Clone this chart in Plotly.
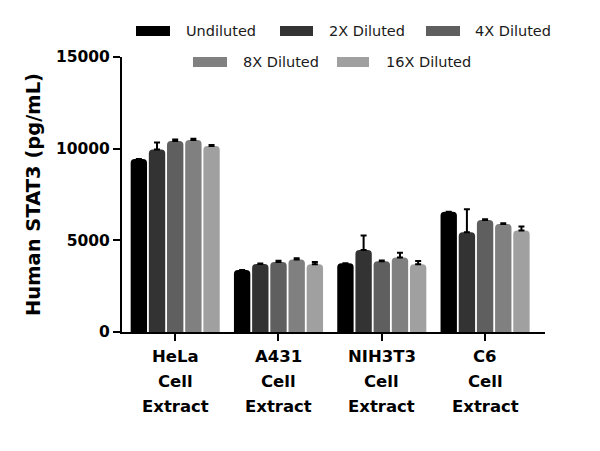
import plotly.graph_objects as go

categories = ["HeLa Cell Extract", "A431 Cell Extract",
              "NIH3T3 Cell Extract", "C6 Cell Extract"]
category_lines = [["HeLa", "Cell", "Extract"], ["A431", "Cell", "Extract"],
                  ["NIH3T3", "Cell", "Extract"], ["C6", "Cell", "Extract"]]
series_names = ["Undiluted", "2X Diluted", "4X Diluted", "8X Diluted", "16X Diluted"]
values = [
    [9440, 3380, 3745, 6560],    # Undiluted
    [9960, 3710, 4470, 5440],    # 2X
    [10420, 3820, 3855, 6110],   # 4X
    [10470, 3960, 4070, 5890],   # 8X
    [10140, 3690, 3690, 5530],   # 16X
]
errors = [
    [0, 0, 0, 0],
    [370, 30, 800, 1250],
    [80, 60, 40, 40],
    [70, 60, 250, 40],
    [60, 130, 180, 220],
]
y_tickvals = [0, 5000, 10000, 15000]
y_ticktext = ["0", "5000", "10000", "15000"]
colors = ["#000000", "#333333", "#5f5f5f", "#808080", "#a0a0a0"]

fig = go.Figure()
for name, vals, err, col in zip(series_names, values, errors, colors):
    fig.add_trace(go.Bar(
        x=categories, y=vals, name=name, marker_color=col,
        marker_line_width=0,
        error_y=dict(type="data", symmetric=False, array=err,
                     arrayminus=[0] * len(err), color="#000000",
                     thickness=2, width=3),
        showlegend=False,
    ))

FONT = "DejaVu Sans"

# plot area in pixels
L, R, T, B = 122, 545, 57, 332
def px(x):
    return (x - L) / (R - L)
def py(y):
    return (B - y) / (B - T)

# custom legend (two centered rows)
legend_pos = [(136, 170, 184, 31), (280, 313, 327, 31), (426, 460, 473, 31),
              (193, 227, 241, 62), (337, 369, 384, 62)]
shapes = []
annotations = []
for name, col, (x0, x1, tx, yc) in zip(series_names, colors, legend_pos):
    shapes.append(dict(type="rect", xref="paper", yref="paper",
                       x0=px(x0), x1=px(x1), y0=py(yc + 5), y1=py(yc - 5),
                       fillcolor=col, line=dict(width=0), layer="above"))
    annotations.append(dict(text=name, xref="paper", yref="paper",
                            x=px(tx), y=py(yc), xanchor="left", yanchor="middle",
                            showarrow=False,
                            font=dict(family=FONT, size=14.5, color="#1a1a1a")))

# category labels, one line per annotation
line_centers = [356, 381, 406]
for cat, lines in zip(categories, category_lines):
    for ln, yc in zip(lines, line_centers):
        annotations.append(dict(text=ln, xref="x", yref="paper", x=cat, y=py(yc),
                                xanchor="center", yanchor="middle", showarrow=False,
                                font=dict(family=FONT, size=16.5, color="#000000",
                                          weight="bold")))

fig.update_layout(
    width=600, height=451,
    margin=dict(l=L, r=600 - R, t=T, b=451 - B),
    paper_bgcolor="white", plot_bgcolor="white",
    barmode="group", bargap=0.12, bargroupgap=0.1,
    barcornerradius=4,
    shapes=shapes, annotations=annotations,
    font=dict(family=FONT, color="#000000"),
)
fig.update_yaxes(
    range=[0, 15000], tickvals=y_tickvals, ticktext=y_ticktext,
    showgrid=False, zeroline=False,
    showline=True, linecolor="#000000", linewidth=2,
    ticks="outside", ticklen=7, tickwidth=2, tickcolor="#000000",
    tickfont=dict(family=FONT, size=15.5, color="#000000", weight="bold"),
    title=dict(text="Human STAT3 (pg/mL)", standoff=10,
               font=dict(family=FONT, size=19.5, color="#000000", weight="bold")),
)
fig.update_xaxes(
    range=[-0.515, 3.58], showticklabels=False,
    showgrid=False, zeroline=False,
    showline=True, linecolor="#000000", linewidth=2,
    ticks="outside", ticklen=7, tickwidth=2, tickcolor="#000000",
)

fig.write_html("out.html")
